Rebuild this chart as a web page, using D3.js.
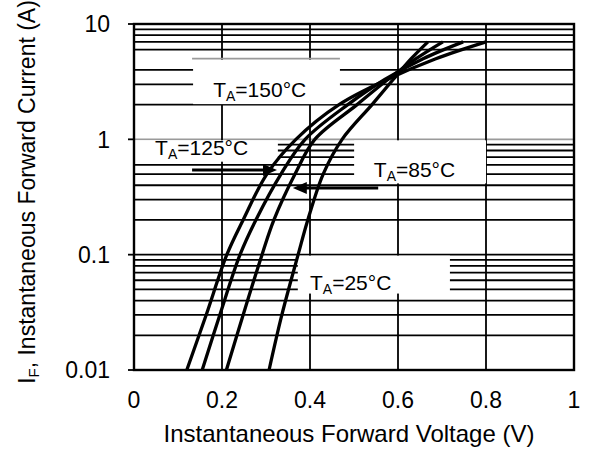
<!DOCTYPE html>
<html>
<head>
<meta charset="utf-8">
<script src="https://cdn.jsdelivr.net/npm/d3@7"></script>
<style>
  body { margin: 0; background: #fff; }
  svg text { font-family: "Liberation Sans", Arial, sans-serif; fill: #000; }
</style>
</head>
<body>
<div id="chart"></div>
<script>
// forward current (A) at which each curve was read
var currentA = [0.01, 0.03, 0.1, 0.2, 0.5, 1, 2, 3.3, 5, 7];
// forward voltage (V) per temperature, same order as currentA
var vf150 = [0.120, 0.164, 0.211, 0.248, 0.302, 0.368, 0.466, 0.575, 0.686, 0.800];
var vf125 = [0.155, 0.195, 0.241, 0.277, 0.334, 0.389, 0.486, 0.570, 0.657, 0.748];
var vf85  = [0.210, 0.248, 0.291, 0.318, 0.366, 0.411, 0.507, 0.577, 0.641, 0.702];
var vf25  = [0.307, 0.336, 0.373, 0.395, 0.430, 0.473, 0.541, 0.589, 0.630, 0.668];
var tempLabels = ["150", "125", "85", "25"];

var xTicks = [0, 0.2, 0.4, 0.6, 0.8, 1];
var xTickLabels = ["0", "0.2", "0.4", "0.6", "0.8", "1"];
var yTicks = [0.01, 0.1, 1, 10];
var yTickLabels = ["0.01", "0.1", "1", "10"];

var W = 590, H = 452;
var margin = {top: 24, right: 16, bottom: 82, left: 134};

var svg = d3.select("#chart").append("svg")
    .attr("width", W)
    .attr("height", H);

var x = d3.scaleLinear().domain([0, 1]).range([margin.left, W - margin.right]);
var y = d3.scaleLog().domain([0.01, 10]).range([H - margin.bottom, margin.top]);

// grid: every 1..9 in each decade, plus the 0.2 V verticals
var minor = [];
yTicks.slice(0, -1).forEach(function(d) {
  for (var k = 2; k <= 9; k++) minor.push(+(d * k).toPrecision(3));
});
var yGrid = yTicks.concat(minor);

// the 1 A line is grey in the original, the 5 A line only shows as the box edge
svg.append("g").selectAll("line")
    .data(yGrid)
  .enter().append("line")
    .attr("x1", x(0)).attr("x2", x(1))
    .attr("y1", function(d) { return y(d); })
    .attr("y2", function(d) { return y(d); })
    .attr("stroke", function(d) { return d === 1 ? "#9a9a9a" : (d === 5 ? "none" : "#000"); })
    .attr("stroke-width", 1.8);

svg.append("g").selectAll("line")
    .data(xTicks)
  .enter().append("line")
    .attr("x1", function(d) { return x(d); })
    .attr("x2", function(d) { return x(d); })
    .attr("y1", y(10)).attr("y2", y(0.01))
    .attr("stroke", "#000")
    .attr("stroke-width", 1.8);

// label boxes (white, hide the grid underneath)
var notes = [
  {t: tempLabels[0], x0: 0.132, x1: 0.468, i0: 5, i1: 2.02, tx: 0.18, ti: 2.33},
  {t: tempLabels[1], x0: 0.0, x1: 0.327, i0: 1, i1: 0.64, tx: 0.048, ti: 0.73},
  {t: tempLabels[2], x0: 0.498, x1: 0.80, i0: 1, i1: 0.415, tx: 0.545, ti: 0.47},
  {t: tempLabels[3], x0: 0.37, x1: 0.718, i0: 0.1, i1: 0.046, tx: 0.40, ti: 0.049}
];

var boxes = svg.append("g").selectAll("g")
    .data(notes)
  .enter().append("g");

boxes.append("rect")
    .attr("x", function(d) { return x(d.x0) + 1; })
    .attr("y", function(d) { return y(d.i0) + 1; })
    .attr("width", function(d) { return x(d.x1) - x(d.x0) - 1; })
    .attr("height", function(d) { return y(d.i1) - y(d.i0) - 1; })
    .attr("fill", "#fff");

// grey top edge on the 150 box
boxes.filter(function(d, i) { return i === 0; }).append("line")
    .attr("x1", function(d) { return x(d.x0); })
    .attr("x2", function(d) { return x(d.x1); })
    .attr("y1", function(d) { return y(d.i0); })
    .attr("y2", function(d) { return y(d.i0); })
    .attr("stroke", "#9a9a9a").attr("stroke-width", 1.8);

// frame + decade ticks
svg.append("rect")
    .attr("x", x(0)).attr("y", y(10))
    .attr("width", x(1) - x(0)).attr("height", y(0.01) - y(10))
    .attr("fill", "none").attr("stroke", "#000").attr("stroke-width", 2.4);

svg.append("g").selectAll("line")
    .data(yTicks)
  .enter().append("line")
    .attr("x1", x(0) - 6).attr("x2", x(0))
    .attr("y1", function(d) { return y(d); })
    .attr("y2", function(d) { return y(d); })
    .attr("stroke", "#000").attr("stroke-width", 1.8);

svg.append("g").selectAll("text")
    .data(yTicks)
  .enter().append("text")
    .attr("x", 110)
    .attr("y", function(d) { return y(d); })
    .attr("dy", "0.36em")
    .attr("text-anchor", "end")
    .style("font-size", "23px")
    .text(function(d, i) { return yTickLabels[i]; });

svg.append("g").selectAll("text")
    .data(xTicks)
  .enter().append("text")
    .attr("x", function(d) { return x(d); })
    .attr("y", 408)
    .attr("text-anchor", "middle")
    .style("font-size", "23px")
    .text(function(d, i) { return xTickLabels[i]; });

// curves
var series = [vf150, vf125, vf85, vf25];
var line = d3.line()
    .x(function(d) { return x(d[0]); })
    .y(function(d) { return y(d[1]); })
    .curve(d3.curveCatmullRom.alpha(0.5));

svg.append("g").selectAll("path")
    .data(series)
  .enter().append("path")
    .attr("d", function(s) { return line(s.map(function(v, i) { return [v, currentA[i]]; })); })
    .attr("fill", "none")
    .attr("stroke", "#000")
    .attr("stroke-width", 3.3);

// arrows for 125 and 85
var arrows = [
  {from: 0.132, to: 0.325, i: 0.543},
  {from: 0.555, to: 0.361, i: 0.379}
];
arrows.forEach(function(a) {
  var dir = a.to > a.from ? 1 : -1;
  var tip = x(a.to), yy = y(a.i);
  svg.append("line")
      .attr("x1", x(a.from)).attr("x2", tip - dir * 10)
      .attr("y1", yy).attr("y2", yy)
      .attr("stroke", "#000").attr("stroke-width", 3);
  svg.append("path")
      .attr("d", "M" + tip + "," + yy + "L" + (tip - dir * 14) + "," + (yy - 6) +
                 "L" + (tip - dir * 14) + "," + (yy + 6) + "Z")
      .attr("fill", "#000");
});

// T_A labels
var lab = svg.append("g").selectAll("text")
    .data(notes)
  .enter().append("text")
    .attr("x", function(d) { return x(d.tx); })
    .attr("y", function(d) { return y(d.ti); })
    .style("font-size", "21px");
lab.append("tspan").text("T");
lab.append("tspan").attr("dy", 4).style("font-size", "14px").text("A");
lab.append("tspan").attr("dy", -4).text(function(d) { return "=" + d.t + "°C"; });

// axis titles
svg.append("text")
    .attr("x", 349)
    .attr("y", 442)
    .attr("text-anchor", "middle")
    .style("font-size", "24px")
    .text("Instantaneous Forward Voltage (V)");

var yt = svg.append("text")
    .attr("transform", "translate(35," + 192 + ") rotate(-90)")
    .attr("text-anchor", "middle")
    .style("font-size", "23px");
yt.append("tspan").text("I");
yt.append("tspan").attr("dy", 4).style("font-size", "15px").text("F");
yt.append("tspan").attr("dy", -4).text(", Instantaneous Forward Current (A)");
</script>
</body>
</html>
